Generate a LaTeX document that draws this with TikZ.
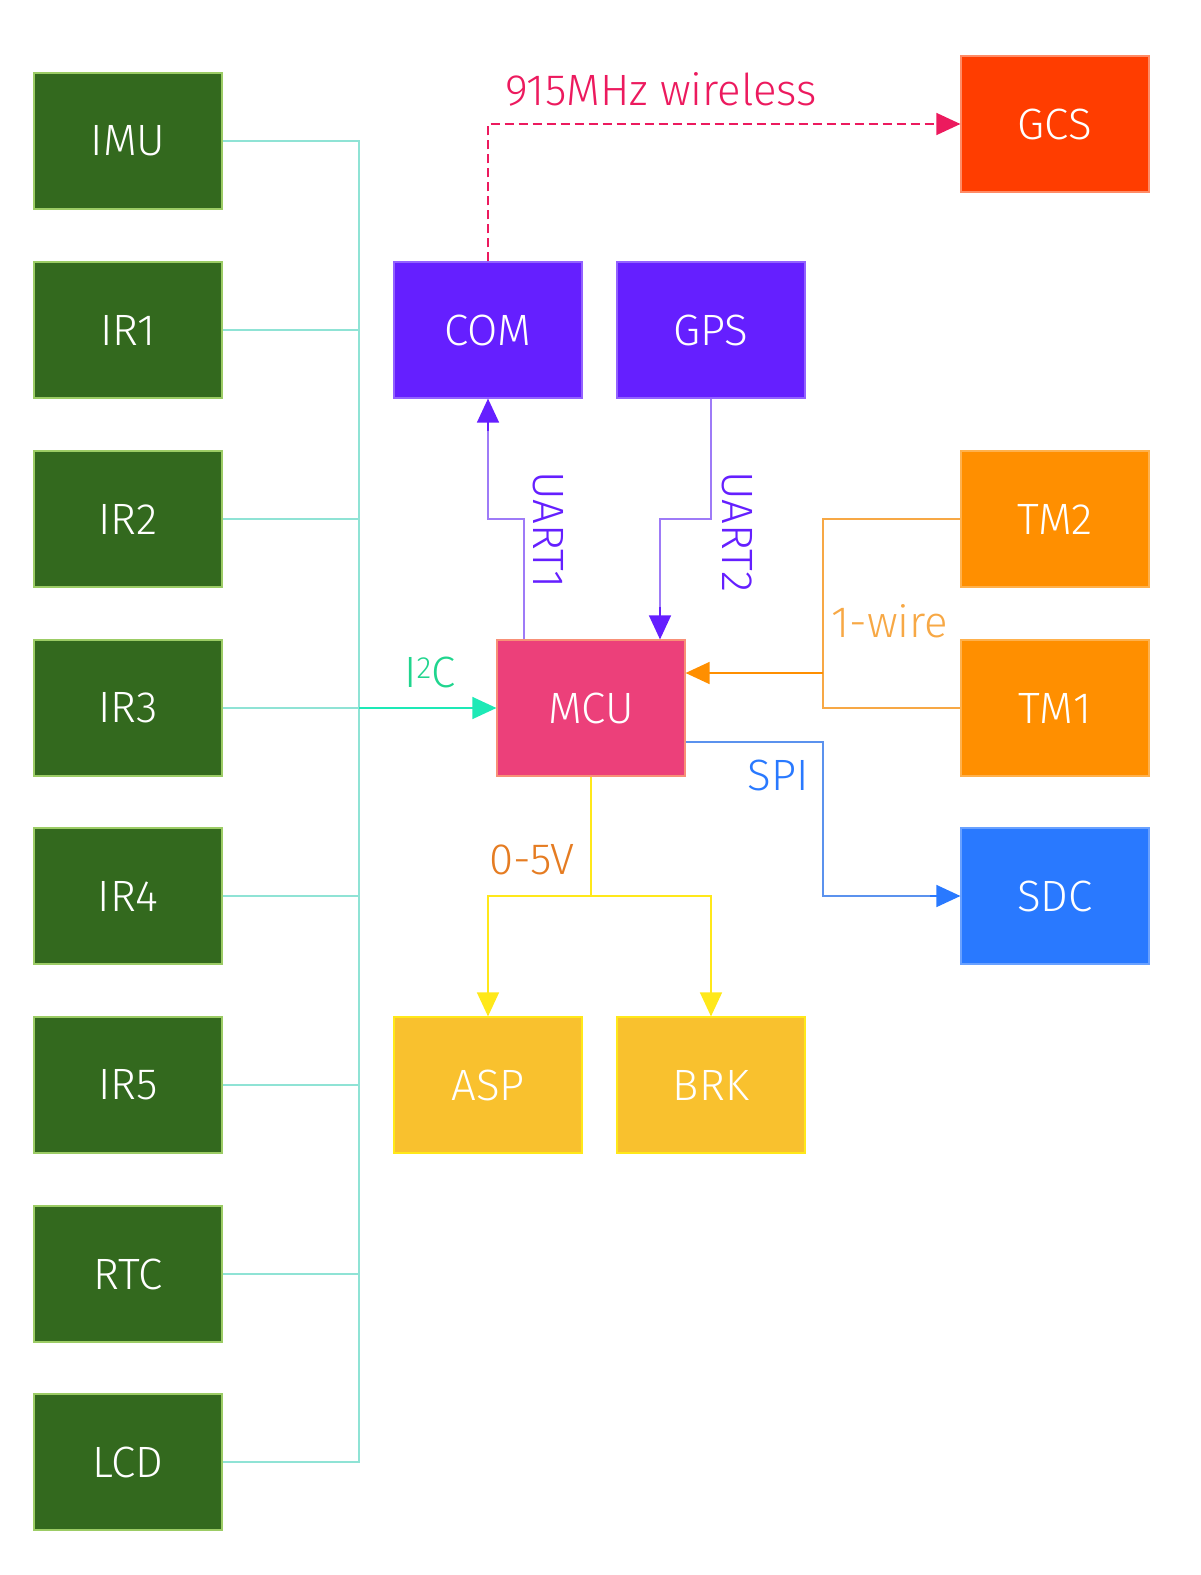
\documentclass[tikz,border=0pt]{standalone}
\usepackage{fontspec}
\setmainfont{Fira Sans Light}
\usetikzlibrary{arrows.meta}

\definecolor{sensgreen}{HTML}{33691E}
\definecolor{sensedge}{HTML}{9CCC65}
\definecolor{radio}{HTML}{651FFF}
\definecolor{radioline}{HTML}{9E7BF7}
\definecolor{ground}{HTML}{FF3D00}
\definecolor{wireless}{HTML}{EC1A5E}
\definecolor{tempo}{HTML}{FF8F00}
\definecolor{wireline}{HTML}{F7A845}
\definecolor{card}{HTML}{2979FF}
\definecolor{spiline}{HTML}{5B92EE}
\definecolor{mcu}{HTML}{EC407A}
\definecolor{act}{HTML}{F9C12E}
\definecolor{actline}{HTML}{FFE81A}
\definecolor{voltlabel}{HTML}{E57C22}
\definecolor{busline}{HTML}{8FE3D5}
\definecolor{busarrow}{HTML}{1DE9B6}
\definecolor{buslabel}{HTML}{20D58E}

\tikzset{
  block/.style={rectangle, minimum width=188bp, minimum height=136bp,
    inner sep=0pt, text=white, line width=1.2bp,
    font=\fontsize{44}{50}\selectfont},
  sensor/.style={block, fill=sensgreen, draw=sensedge},
  radiobox/.style={block, fill=radio, draw=radio!70!white},
  gcsbox/.style={block, fill=ground, draw=ground!60!white},
  tempbox/.style={block, fill=tempo, draw=tempo!70!white},
  sdcbox/.style={block, fill=card, draw=card!70!white},
  mcubox/.style={block, fill=mcu, draw=mcu!50!orange!70!white},
  actbox/.style={block, fill=act, draw=actline},
  wire/.style={line width=1.4bp},
  tip/.style={-{Triangle[length=24bp,width=22bp]}},
  lbl/.style={font=\fontsize{44}{50}\selectfont, inner sep=0pt}
}

\begin{document}
\begin{tikzpicture}[x=1bp,y=-1bp]
    \path[use as bounding box] (0,0) rectangle (1200,1575);

    % sensors on the left
    \node[sensor] (IMU) at (128,141) {IMU};
    \node[sensor] (IR1) at (128,330) {IR1};
    \node[sensor] (IR2) at (128,519) {IR2};
    \node[sensor] (IR3) at (128,708) {IR3};
    \node[sensor] (IR4) at (128,896) {IR4};
    \node[sensor] (IR5) at (128,1085) {IR5};
    \node[sensor] (RTC) at (128,1274) {RTC};
    \node[sensor] (LCD) at (128,1462) {LCD};

    % middle and right
    \node[radiobox] (COM) at (488,330) {COM};
    \node[radiobox] (GPS) at (711,330) {GPS};
    \node[gcsbox] (GCS) at (1055,124) {GCS};
    \node[mcubox] (MCU) at (591,708) {MCU};
    \node[tempbox] (TM2) at (1055,519) {TM2};
    \node[tempbox] (TM1) at (1055,708) {TM1};
    \node[sdcbox] (SDC) at (1055,896) {SDC};
    \node[actbox] (ASP) at (488,1085) {ASP};
    \node[actbox] (BRK) at (711,1085) {BRK};

    % bend points
    \coordinate (bus) at (359,708);
    \coordinate (air) at (488,124);
    \coordinate (u1) at (524,519);
    \coordinate (u2) at (660,519);
    \coordinate (ow) at (823,673);
    \coordinate (sp) at (823,742);
    \coordinate (vv) at (591,896);

    % I2C bus
    \draw[wire,busline] (IMU.east) -| (bus |- LCD.east) -- (LCD.east);
    \foreach \s in {IR1,IR2,IR4,IR5,RTC}
        \draw[wire,busline] (\s.east) -- (bus |- \s.east);
    \draw[wire,busline] (IR3.east) -- (bus);
    \draw[wire,busarrow,tip] (bus) -- (MCU.west);
    \node[lbl,buslabel] (i2c) at (430,672) {I\textsuperscript{2}C};

    % wireless link
    \draw[wire,wireless,dashed,dash pattern=on 9bp off 5bp,tip]
        (COM.north) -- (air) -- (GCS.west);
    \node[lbl,wireless] (radiolbl) at (661,89) {915MHz wireless};

    % UART
    \draw[wire,radioline] (MCU.north -| u1) -- (u1) -| ([yshift=-32bp]COM.south);
    \draw[wire,radio,tip] ([yshift=-32bp]COM.south) -- (COM.south);
    \draw[wire,radioline] (GPS.south) |- (u2) -- ([yshift=32bp]MCU.north -| u2);
    \draw[wire,radio,tip] ([yshift=32bp]MCU.north -| u2) -- (MCU.north -| u2);
    \node[lbl,radio,rotate=-90] (uart1) at (548,530) {UART1};
    \node[lbl,radio,rotate=-90] (uart2) at (737,532) {UART2};

    % 1-wire
    \draw[wire,wireline] (TM2.west) -| (ow |- TM1.west) -- (TM1.west);
    \draw[wire,tempo,tip] (ow) -- (MCU.east |- ow);
    \node[lbl,wireline] (owlbl) at (890,621) {1-wire};

    % SPI
    \draw[wire,spiline] (MCU.east |- sp) -- (sp) |- ([xshift=-30bp]SDC.west);
    \draw[wire,card,tip] ([xshift=-30bp]SDC.west) -- (SDC.west);
    \node[lbl,card] (spilbl) at (778,775) {SPI};

    % analog outputs
    \draw[wire,actline] (MCU.south) -- (vv);
    \draw[wire,actline,tip] (vv) -| (ASP.north);
    \draw[wire,actline,tip] (vv) -| (BRK.north);
    \node[lbl,voltlabel] (voltlbl) at (532,860) {0-5V};
\end{tikzpicture}
\end{document}
